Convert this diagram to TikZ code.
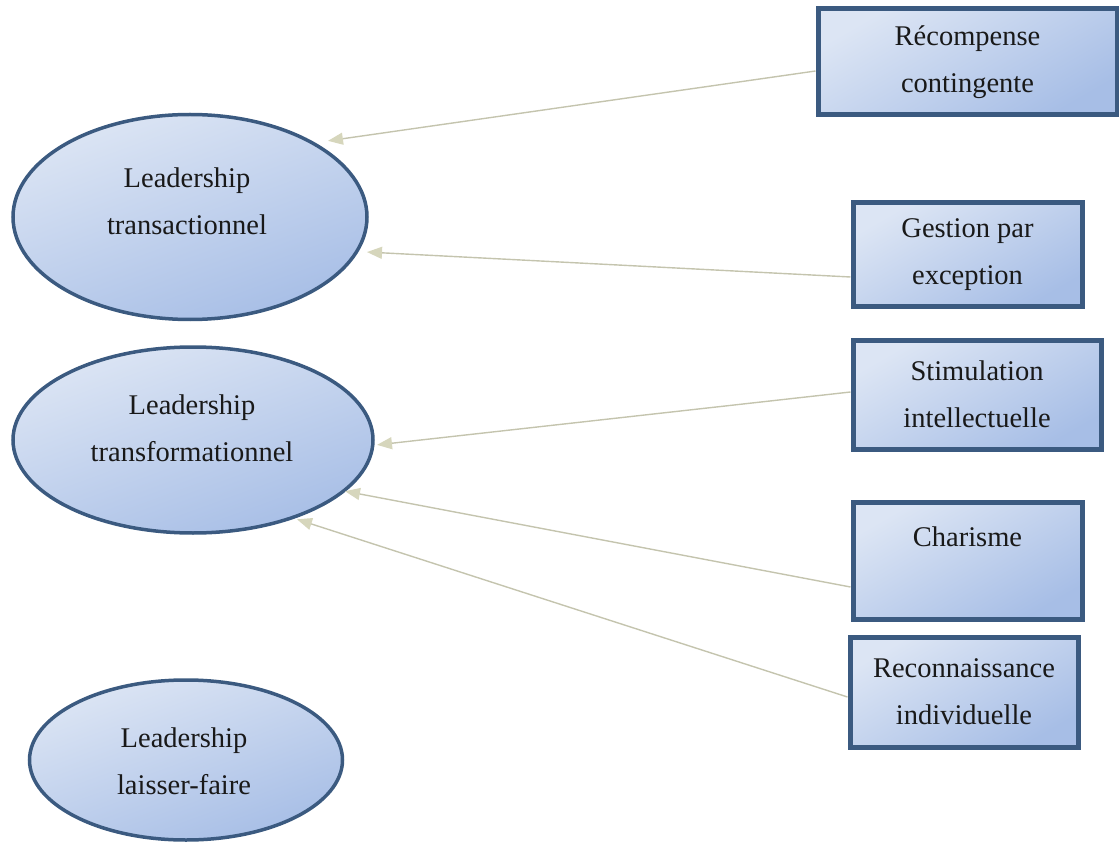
\documentclass[tikz,border=0pt]{standalone}
\usepackage{fontspec}
\setmainfont{Liberation Serif}
\usetikzlibrary{shapes.geometric,arrows.meta}

\definecolor{edgeblue}{HTML}{3B5A80}
\definecolor{fillhi}{HTML}{DCE5F4}
\definecolor{filllo}{HTML}{A7BEE6}
\definecolor{linkgray}{HTML}{C4C4AE}
\definecolor{tipfill}{HTML}{D6D6BC}

\tikzset{
  labeltext/.style={font=\fontsize{28.5}{47}\selectfont, align=center, inner sep=0pt, text=black!90},
  styleell/.style={ellipse, draw=edgeblue, line width=3.5pt, inner sep=0pt,
    top color=fillhi, bottom color=filllo, shading angle=20},
  dimbox/.style={rectangle, draw=edgeblue, line width=5pt, inner sep=0pt,
    top color=fillhi, bottom color=filllo, shading angle=30,
    font=\fontsize{28.5}{47}\selectfont, align=center, text=black!90},
  feeds/.style={draw=linkgray, line width=1.4pt,
    -{Triangle[length=15pt,width=12pt,color=tipfill,fill=tipfill]}, shorten >=1pt}
}

\begin{document}
\begin{tikzpicture}[x=1pt,y=-1pt]
  \useasboundingbox (0,0) rectangle (1119,842);

  % leadership styles
  \node[styleell, minimum width=354pt, minimum height=205pt] (trans) at (190,217) {};
  \node[labeltext] (transT) at (187,201) {Leadership\\transactionnel};

  \node[styleell, minimum width=360pt, minimum height=186pt] (transf) at (193,440) {};
  \node[labeltext] (transfT) at (192,428) {Leadership\\transformationnel};

  \node[styleell, minimum width=313pt, minimum height=160pt] (laisser) at (186,760) {};
  \node[labeltext] (laisserT) at (184,761) {Leadership\\laisser-faire};

  % dimensions
  \node[dimbox, minimum width=299pt, minimum height=106pt] (recomp) at (967.5,62) {Récompense\\contingente};
  \node[dimbox, minimum width=229pt, minimum height=104pt] (gestion) at (967.5,255) {Gestion par\\exception};
  \node[dimbox, minimum width=248pt, minimum height=109pt] (stim) at (977,394.5) {Stimulation\\intellectuelle};
  \node[dimbox, minimum width=229pt, minimum height=117pt] (charisme) at (967.5,560.5) {Charisme\\\mbox{}};
  \node[dimbox, minimum width=228pt, minimum height=110pt] (reconn) at (964,692) {Reconnaissance\\individuelle};

  % links
  \coordinate (t1) at (327,141);
  \coordinate (t2) at (366,252);
  \coordinate (t3) at (376,445);
  \coordinate (t4) at (344,491);
  \coordinate (t5) at (296,519);

  \draw[feeds] (recomp.west |- 0,71) -- (t1);
  \draw[feeds] (gestion.west |- 0,277) -- (t2);
  \draw[feeds] (stim.west |- 0,392) -- (t3);
  \draw[feeds] (charisme.west |- 0,587) -- (t4);
  \draw[feeds] (reconn.west |- 0,697) -- (t5);
\end{tikzpicture}
\end{document}
